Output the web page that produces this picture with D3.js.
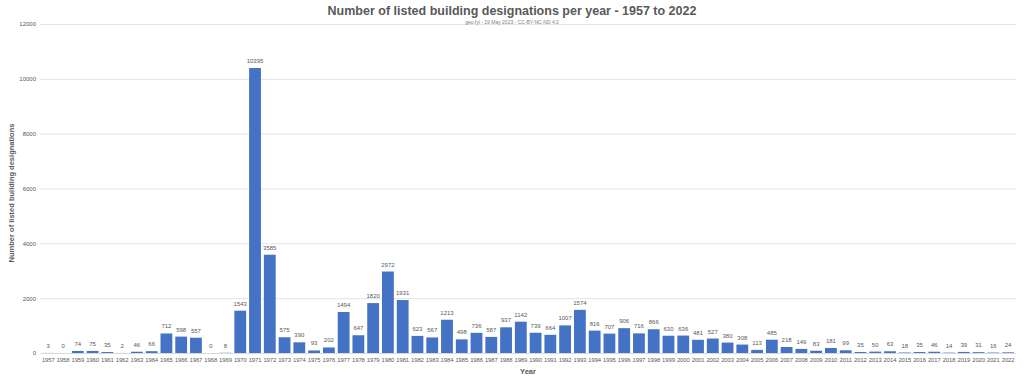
<!DOCTYPE html>
<html><head><meta charset="utf-8">
<script src="https://cdn.jsdelivr.net/npm/d3@7"></script>
<style>body{margin:0;background:#fff;font-family:"Liberation Sans",Arial,sans-serif;}</style>
</head><body><svg id="c" width="1024" height="383"></svg>
<script>
const years = [1957,1958,1959,1960,1961,1962,1963,1964,1965,1966,1967,1968,1969,1970,1971,1972,1973,1974,1975,1976,1977,1978,1979,1980,1981,1982,1983,1984,1985,1986,1987,1988,1989,1990,1991,1992,1993,1994,1995,1996,1997,1998,1999,2000,2001,2002,2003,2004,2005,2006,2007,2008,2009,2010,2011,2012,2013,2014,2015,2016,2017,2018,2019,2020,2021,2022];
const designations = [3,0,74,75,35,2,46,66,712,598,557,0,8,1543,10395,3585,575,390,93,202,1494,647,1820,2972,1931,623,567,1213,498,736,587,937,1142,739,664,1007,1574,816,707,906,716,866,630,636,481,527,380,308,113,485,218,149,83,181,99,35,50,63,18,35,46,14,39,31,16,24];
const yTicks = [0,2000,4000,6000,8000,10000,12000];
const titleText = "Number of listed building designations per year - 1957 to 2022";
const subtitleText = "geo.fyi - 19 May 2023 - CC-BY-NC-ND 4.0";
const yLabel = "Number of listed building designations";
const xLabel = "Year";

const svg = d3.select("#c");
const grey = "#595959";
const small = "Liberation Sans, Arial, sans-serif";
const x = d3.scaleBand().domain(years.map(String)).range([40.9, 1015.5]).paddingInner(0.2).paddingOuter(0.1);
const y = d3.scaleLinear().domain([0, 12000]).range([353, 24]);

svg.append("g").selectAll("line").data(yTicks).join("line")
  .attr("x1", 40).attr("x2", 1016)
  .attr("y1", d => y(d)+0.5).attr("y2", d => y(d)+0.5)
  .attr("stroke", "#e3e3e3").attr("stroke-width", 1);

const ya = svg.append("g").attr("transform", "translate(36,0)")
  .call(d3.axisLeft(y).tickValues(yTicks).tickSize(0).tickPadding(0).tickFormat(d3.format("d")));
ya.select(".domain").remove();
ya.selectAll("text").attr("fill", grey).style("font-size", "6px").style("font-family", small);

const xa = svg.append("g").attr("transform", `translate(0,${y(0)})`)
  .call(d3.axisBottom(x).tickSize(0).tickPadding(5));
xa.select(".domain").attr("stroke", "#d9d9d9");
xa.selectAll("text").attr("fill", grey).style("font-size", "5.9px").style("letter-spacing", "-0.1px").style("font-family", small);

svg.append("g").selectAll("rect").data(years).join("rect")
  .attr("x", (d) => x(String(d)))
  .attr("width", x.bandwidth())
  .attr("y", (d, i) => y(designations[i]))
  .attr("height", (d, i) => y(0) - y(designations[i]))
  .attr("fill", "#4472C4");

svg.append("g").selectAll("text").data(years).join("text")
  .attr("x", d => x(String(d)) + x.bandwidth()/2)
  .attr("y", (d, i) => y(designations[i]) - 5)
  .attr("text-anchor", "middle")
  .attr("fill", grey)
  .style("font-size", "6px").style("font-family", small)
  .text((d, i) => designations[i]);

svg.append("text").attr("x", 512).attr("y", 15).attr("text-anchor", "middle")
  .attr("fill", grey).style("font-size", "12.5px").style("font-weight", "bold").text(titleText);
svg.append("text").attr("x", 512).attr("y", 24).attr("text-anchor", "middle")
  .attr("fill", "#808080").style("font-size", "5px").text(subtitleText);
svg.append("text").attr("transform", "translate(14,193) rotate(-90)").attr("text-anchor", "middle")
  .attr("fill", grey).style("font-size", "7.5px").style("font-weight", "bold").text(yLabel);
svg.append("text").attr("x", 528).attr("y", 374).attr("text-anchor", "middle")
  .attr("fill", grey).style("font-size", "7.5px").style("font-weight", "bold").text(xLabel);
</script></body></html>
